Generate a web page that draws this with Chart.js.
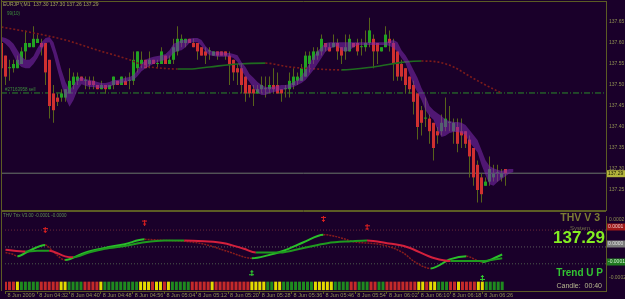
<!DOCTYPE html>
<html>
<head>
<meta charset="utf-8">
<script src="https://cdn.jsdelivr.net/npm/chart.js@4.4.1/dist/chart.umd.min.js"></script>
<style>
  html, body { margin: 0; padding: 0; background: #1a002a; }
  #wrap { position: relative; width: 625px; height: 299px; overflow: hidden; }
  canvas { position: absolute; left: 0; }
  #priceCanvas { top: 0; }
  #trixCanvas { top: 211px; }
</style>
</head>
<body>
<div id="wrap">
  <canvas id="priceCanvas" width="625" height="211"></canvas>
  <canvas id="trixCanvas" width="625" height="88"></canvas>
</div>
<script>
// EURJPY M1 candles, 8 Jun 2009 (one entry per bar, left to right)
const opens = [137.60,137.57,137.54,137.54,137.54,137.55,137.58,137.59,137.59,137.60,
  137.60,137.60,137.56,137.48,137.47,137.47,137.47,137.48,137.50,137.51,
  137.52,137.51,137.51,137.51,137.50,137.49,137.50,137.49,137.50,137.51,
  137.50,137.51,137.51,137.51,137.54,137.55,137.56,137.55,137.56,137.55,
  137.55,137.57,137.55,137.56,137.58,137.60,137.60,137.61,137.60,137.60,
  137.59,137.58,137.58,137.57,137.58,137.58,137.58,137.57,137.56,137.54,
  137.54,137.52,137.50,137.49,137.48,137.49,137.49,137.49,137.50,137.50,
  137.49,137.49,137.49,137.50,137.51,137.51,137.52,137.55,137.56,137.57,
  137.58,137.60,137.59,137.59,137.60,137.59,137.58,137.58,137.60,137.60,
  137.59,137.59,137.60,137.61,137.60,137.58,137.59,137.61,137.60,137.58,
  137.55,137.54,137.52,137.50,137.48,137.44,137.42,137.42,137.41,137.39,
  137.39,137.40,137.41,137.39,137.40,137.39,137.39,137.37,137.35,137.31,
  137.28,137.26,137.27,137.28,137.29,137.28,137.30];
const highs = [137.61,137.57,137.56,137.56,137.57,137.59,137.63,137.60,137.64,137.62,
  137.61,137.60,137.56,137.50,137.48,137.49,137.49,137.54,137.53,137.53,
  137.52,137.52,137.52,137.52,137.50,137.51,137.50,137.50,137.52,137.51,
  137.52,137.52,137.53,137.58,137.58,137.58,137.56,137.58,137.56,137.56,
  137.59,137.57,137.57,137.61,137.64,137.62,137.61,137.61,137.61,137.60,
  137.59,137.59,137.59,137.58,137.58,137.58,137.58,137.58,137.56,137.55,
  137.55,137.52,137.50,137.50,137.50,137.52,137.52,137.52,137.54,137.53,
  137.49,137.50,137.53,137.54,137.53,137.55,137.58,137.58,137.59,137.59,
  137.62,137.60,137.60,137.62,137.61,137.59,137.62,137.62,137.60,137.61,
  137.61,137.63,137.66,137.62,137.60,137.59,137.64,137.63,137.61,137.58,
  137.56,137.54,137.52,137.51,137.48,137.45,137.47,137.43,137.41,137.40,
  137.43,137.47,137.45,137.42,137.42,137.42,137.39,137.38,137.35,137.32,
  137.29,137.28,137.33,137.31,137.31,137.30,137.30];
const lows = [137.51,137.50,137.51,137.53,137.54,137.55,137.56,137.59,137.59,137.60,
  137.57,137.50,137.42,137.41,137.45,137.46,137.46,137.48,137.49,137.50,
  137.51,137.49,137.49,137.49,137.49,137.49,137.48,137.49,137.49,137.50,
  137.50,137.50,137.49,137.50,137.53,137.54,137.54,137.54,137.55,137.54,
  137.55,137.55,137.55,137.55,137.57,137.59,137.59,137.60,137.59,137.56,
  137.57,137.55,137.56,137.57,137.56,137.57,137.56,137.50,137.51,137.50,
  137.48,137.46,137.47,137.45,137.48,137.48,137.47,137.48,137.48,137.48,
  137.46,137.47,137.47,137.49,137.50,137.51,137.52,137.53,137.55,137.56,
  137.57,137.58,137.58,137.59,137.56,137.55,137.56,137.58,137.59,137.57,
  137.57,137.58,137.59,137.54,137.55,137.58,137.59,137.58,137.51,137.51,
  137.51,137.48,137.48,137.43,137.37,137.38,137.40,137.36,137.32,137.36,
  137.38,137.39,137.39,137.36,137.34,137.35,137.35,137.28,137.26,137.22,
  137.22,137.26,137.26,137.27,137.27,137.27,137.26];
const closes = [137.54,137.52,137.54,137.55,137.56,137.58,137.60,137.60,137.61,137.61,
  137.59,137.53,137.45,137.44,137.46,137.48,137.49,137.51,137.52,137.52,
  137.51,137.51,137.50,137.50,137.49,137.50,137.49,137.50,137.52,137.50,
  137.52,137.50,137.51,137.56,137.58,137.56,137.54,137.56,137.55,137.55,
  137.58,137.55,137.56,137.59,137.61,137.61,137.61,137.60,137.59,137.58,
  137.57,137.57,137.58,137.58,137.57,137.57,137.57,137.55,137.53,137.53,
  137.50,137.48,137.48,137.48,137.49,137.50,137.49,137.50,137.49,137.48,
  137.48,137.49,137.51,137.52,137.52,137.54,137.57,137.57,137.58,137.58,
  137.61,137.59,137.58,137.60,137.58,137.57,137.59,137.61,137.59,137.58,
  137.59,137.60,137.63,137.58,137.58,137.59,137.62,137.60,137.55,137.52,
  137.52,137.50,137.49,137.46,137.40,137.41,137.42,137.39,137.35,137.38,
  137.41,137.42,137.41,137.41,137.36,137.38,137.36,137.33,137.28,137.25,
  137.24,137.27,137.30,137.29,137.29,137.29,137.29];

// purple channel (upper / lower edge per bar, runs two bars past the last candle)
const bandUpper = [137.614,137.612,137.607,137.598,137.583,137.567,137.560,137.560,137.569,137.588,
  137.602,137.612,137.614,137.602,137.571,137.536,137.507,137.488,137.500,137.514,
  137.519,137.514,137.512,137.510,137.507,137.505,137.505,137.507,137.512,137.512,
  137.514,137.517,137.519,137.524,137.536,137.550,137.560,137.564,137.567,137.569,
  137.571,137.574,137.583,137.598,137.602,137.607,137.607,137.610,137.612,137.612,
  137.607,137.593,137.583,137.579,137.579,137.579,137.576,137.576,137.574,137.571,
  137.555,137.543,137.526,137.517,137.507,137.500,137.495,137.495,137.495,137.498,
  137.500,137.500,137.502,137.507,137.512,137.521,137.536,137.552,137.567,137.581,
  137.590,137.600,137.602,137.602,137.602,137.602,137.602,137.602,137.602,137.602,
  137.602,137.602,137.602,137.602,137.602,137.602,137.602,137.605,137.607,137.602,
  137.583,137.571,137.555,137.536,137.517,137.493,137.474,137.450,137.440,137.433,
  137.426,137.417,137.414,137.412,137.412,137.410,137.405,137.393,137.381,137.369,
  137.345,137.321,137.307,137.302,137.298,137.295,137.298,137.300,137.300];
const bandLower = [137.605,137.598,137.588,137.571,137.552,137.543,137.540,137.540,137.550,137.564,
  137.583,137.600,137.602,137.574,137.536,137.500,137.469,137.448,137.464,137.488,
  137.502,137.498,137.495,137.495,137.493,137.493,137.493,137.495,137.500,137.502,
  137.505,137.507,137.510,137.512,137.521,137.533,137.540,137.545,137.550,137.555,
  137.557,137.560,137.564,137.576,137.581,137.583,137.590,137.600,137.602,137.602,
  137.593,137.579,137.571,137.569,137.567,137.567,137.567,137.567,137.564,137.555,
  137.536,137.519,137.507,137.493,137.483,137.476,137.476,137.481,137.483,137.486,
  137.488,137.490,137.493,137.495,137.500,137.505,137.512,137.524,137.536,137.550,
  137.564,137.579,137.586,137.590,137.593,137.583,137.579,137.583,137.590,137.595,
  137.595,137.595,137.595,137.595,137.595,137.595,137.595,137.593,137.588,137.579,
  137.564,137.552,137.526,137.500,137.483,137.464,137.440,137.426,137.417,137.393,
  137.376,137.379,137.386,137.388,137.388,137.386,137.381,137.364,137.352,137.340,
  137.310,137.286,137.264,137.260,137.269,137.276,137.283,137.290,137.293];

// slow moving average, read at these bars
const maBars   = [0, 8, 16, 24, 32, 36, 40, 44, 47, 52, 59, 66, 72, 79, 85, 93, 101, 105, 109, 113, 117, 121, 125];
const maValues = [137.638, 137.624, 137.607, 137.583, 137.560, 137.545, 137.540, 137.538, 137.538, 137.543, 137.550,
  137.552, 137.543, 137.538, 137.536, 137.543, 137.555, 137.557, 137.555, 137.543, 137.521, 137.500, 137.481];

const sellLevel = 137.481;
const lastPrice = 137.29;
const priceTicks = [137.25, 137.30, 137.35, 137.40, 137.45, 137.50, 137.55, 137.60, 137.65];

// one label every 8 bars
const timeLabels = ['8 Jun 2009', '8 Jun 04:32', '8 Jun 04:40', '8 Jun 04:48', '8 Jun 04:56', '8 Jun 05:04',
  '8 Jun 05:12', '8 Jun 05:20', '8 Jun 05:28', '8 Jun 05:36', '8 Jun 05:46', '8 Jun 05:54',
  '8 Jun 06:02', '8 Jun 06:10', '8 Jun 06:18', '8 Jun 06:26'];

// THV Trix window, values in units of 0.0001
const TRIX_UNIT = 1e-4;
const fastBars   = [0, 2, 3, 6, 10, 12, 15, 20, 25, 30, 35, 40, 45, 50, 56, 62, 66, 70, 75, 80, 85, 87, 95, 100, 103, 107, 112, 116, 120, 125];
const fastValues = [-0.26, -0.39, -0.52, -0.13, 0.26, -0.19, -0.77, -0.26, 0.06, 0.32, 0.65, 0.58, 0.52, 0.32, -0.19,
  -0.65, -0.45, -0.13, 0.45, 0.97, 0.71, 0.52, 0.26, -0.26, -0.90, -1.35, -0.71, -0.52, -0.90, -0.39];
const slowBars   = [0, 5, 8, 11, 15, 17, 21, 25, 30, 35, 40, 45, 50, 55, 60, 63, 69, 75, 81, 87, 91, 96, 101, 108, 112, 120, 125];
const slowValues = [-0.06, -0.19, -0.13, -0.13, -0.52, -0.58, -0.26, 0.00, 0.19, 0.45, 0.58, 0.58, 0.52, 0.39, 0.00,
  -0.26, -0.26, 0.06, 0.39, 0.52, 0.58, 0.39, 0.13, -0.65, -0.84, -0.84, -0.65];
const trixLevels = [1.29, 0.13, -1.03];
const trixTicks  = [2, -2];
const sellArrowBars = [10, 35, 80, 91];
const sellArrowValues = [1.29, 1.81, 2.06, 1.48];
const buyArrowBars = [62, 120];
const buyArrowValues = [-1.68, -2.0];
// r = down, y = flat, g = up
const trendStrip = ('rrry' + 'ggggg' + 'rrrrr' + 'yy' + 'gggg' + 'rrrr' + 'y' + 'ggggggggg' + 'yyy' + 'r' + 'yy' + 'r' + 'y' +
  'ggggg' + 'rrrrr' + 'y' + 'rrrrrrrrr' + 'yyyy' + 'gg' + 'yy' + 'gggggggg' + 'yyyyy' + 'gggg' + 'rr' + 'ggg' + 'rr' + 'gg' +
  'rrrrrrrr' + 'yy' + 'r' + 'yy' + 'ggg' + 'rr' + 'y' + 'rrrr' + 'yy' + 'ggggg').split('');

// ---- styling ----
const FONT = "'Liberation Sans', Arial, sans-serif";
const AXIS = '#5c5c24';
const TXT = '#8e8e52';
const BULL = '#22a322', BEAR = '#d03030', WICK = '#58621a';
const X_MIN = -0.125, X_MAX = 151.125;
const STRIP_TOP = -2.26e-4, STRIP_BOTTOM = -2.84e-4;
const trendColors = { r: '#c42a2a', y: '#e4da00', g: '#1f8a1f' };

function arrowIcon(color, down) {
  const c = document.createElement('canvas');
  c.width = 5; c.height = 6;
  const g = c.getContext('2d');
  g.fillStyle = color;
  const row = r => down ? r : 5 - r;
  g.fillRect(2, 0, 1, 6);
  g.fillRect(0, row(1), 5, 1);
  g.fillRect(1, row(4), 3, 1);
  return c;
}

function hline(value, color, dash, width) {
  return {
    type: 'line', data: [{ x: X_MIN, y: value }, { x: X_MAX, y: value }],
    borderColor: color, borderDash: dash, borderWidth: width || 1, pointRadius: 0, order: 5
  };
}

const rising = c => c.p1.parsed.y >= c.p0.parsed.y;

function xAxis(show) {
  return {
    type: 'linear', min: X_MIN, max: X_MAX, offset: false, display: show,
    grid: { display: true, drawOnChartArea: false, drawTicks: true, tickLength: 3, color: AXIS, offset: false },
    border: { display: true, color: AXIS },
    afterBuildTicks: s => { s.ticks = timeLabels.map((_, k) => ({ value: k * 8 })); },
    afterFit: s => { s.height = show ? 8 : 0; s.paddingLeft = 0; s.paddingRight = 0; },
    ticks: {
      autoSkip: false, maxRotation: 0, minRotation: 0, align: 'start', labelOffset: 2, padding: -2,
      color: TXT, font: { size: 5.5, family: FONT }, callback: v => timeLabels[Math.round(v / 8)]
    }
  };
}

function yAxis(min, max, ticks, fmt) {
  return {
    type: 'linear', position: 'right', min, max, beginAtZero: false,
    grid: { display: false, drawTicks: false },
    border: { display: true, color: AXIS },
    afterBuildTicks: s => { s.ticks = ticks.map(v => ({ value: v })); },
    afterFit: s => { s.width = 19; s.paddingTop = 0; s.paddingBottom = 0; },
    ticks: { padding: 3, color: TXT, font: { size: 5, family: FONT }, callback: fmt }
  };
}

function frame(bottomLine) {
  return {
    id: 'frame',
    afterDraw(chart) {
      const { ctx, chartArea: a } = chart;
      ctx.save();
      ctx.strokeStyle = AXIS; ctx.lineWidth = 1;
      ctx.beginPath();
      ctx.moveTo(1.5, 0); ctx.lineTo(1.5, a.bottom);
      if (bottomLine) {
        ctx.moveTo(1, 1.5); ctx.lineTo(a.right, 1.5);
        ctx.moveTo(1, a.bottom + 0.5); ctx.lineTo(a.right, a.bottom + 0.5);
      } else {
        ctx.moveTo(1, 0.5); ctx.lineTo(a.right, 0.5);
      }
      ctx.stroke();
      ctx.restore();
    }
  };
}

function text(ctx, str, x, y, font, color, align) {
  ctx.font = font; ctx.fillStyle = color;
  ctx.textAlign = align || 'left'; ctx.textBaseline = 'middle';
  ctx.fillText(str, x, y);
}

function valueBox(ctx, str, y, bg, fg) {
  ctx.fillStyle = bg;
  ctx.fillRect(607, y - 3, 18, 7);
  text(ctx, str, 608, y + 0.5, '5px ' + FONT, fg);
}

const priceTexts = {
  id: 'priceTexts',
  afterDraw(chart) {
    const ctx = chart.ctx;
    ctx.save();
    text(ctx, 'EURJPY,M1  137.30 137.30 137.26 137.29', 3, 5, '5px ' + FONT, '#a4a45c');
    text(ctx, '99(10)', 7, 14, '4.5px ' + FONT, '#3c8c3c');
    text(ctx, '#27163958 sell', 5, 90, '4.5px ' + FONT, '#3c8c3c');
    valueBox(ctx, lastPrice.toFixed(2), chart.scales.y.getPixelForValue(lastPrice), '#b4b43c', '#1a1a00');
    ctx.restore();
  }
};

const trixTexts = {
  id: 'trixTexts',
  afterDraw(chart) {
    const ctx = chart.ctx;
    ctx.save();
    text(ctx, 'THV Trix V3.00 -0.0001 -0.0000', 3, 5, '4.5px ' + FONT, '#5e8e52');
    text(ctx, 'THV V 3', 600, 7, 'bold 10.5px ' + FONT, '#7c7c34', 'right');
    text(ctx, 'System', 580, 17, '6px ' + FONT, '#6e6e48', 'center');
    text(ctx, lastPrice.toFixed(2), 605, 27.5, 'bold 17px ' + FONT, '#84ee22', 'right');
    text(ctx, 'Trend U P', 603, 62.5, 'bold 10px ' + FONT, '#33c333', 'right');
    text(ctx, 'Candle:  00:40', 602, 75, '7px ' + FONT, '#b8b890', 'right');
    valueBox(ctx, '0.0001', 15.5, '#a01818', '#e8c8c8');
    valueBox(ctx, '0.0000', 32.5, '#7a7a7a', '#e0e0e0');
    valueBox(ctx, '-0.0001', 50.5, '#207a20', '#d0f0d0');
    ctx.restore();
  }
};

Chart.defaults.animation = false;
Chart.defaults.events = [];
Chart.defaults.plugins.legend.display = false;
Chart.defaults.plugins.tooltip.enabled = false;

new Chart(document.getElementById('priceCanvas'), {
  type: 'bar',
  data: {
    datasets: [
      {
        type: 'line', data: bandUpper.map((v, i) => ({ x: i, y: v })),
        borderWidth: 0, pointRadius: 0, fill: false, order: 0
      },
      {
        type: 'line', data: bandLower.map((v, i) => ({ x: i, y: v })),
        borderWidth: 0, pointRadius: 0, fill: '-1', backgroundColor: 'rgba(125, 42, 175, 0.55)', order: 0
      },
      {
        type: 'line', data: maBars.map((b, k) => ({ x: b, y: maValues[k] })),
        borderWidth: 1.6, pointRadius: 0, cubicInterpolationMode: 'monotone', order: 1,
        segment: {
          borderColor: c => rising(c) ? '#1f6b1f' : '#7d1a1a',
          borderDash: c => rising(c) ? [] : [2, 2]
        }
      },
      {
        type: 'bar', data: opens.map((o, i) => ({ x: i, y: [lows[i], highs[i]] })),
        backgroundColor: WICK, barThickness: 1, grouped: false, inflateAmount: 0, order: 3
      },
      {
        type: 'bar', data: opens.map((o, i) => ({ x: i, y: [o, closes[i]] })),
        backgroundColor: c => closes[c.dataIndex] >= opens[c.dataIndex] ? BULL : BEAR,
        barThickness: 3, minBarLength: 1, grouped: false, inflateAmount: 0, order: 2
      },
      hline(sellLevel, '#2a8a2a', [6, 2, 1, 2]),
      hline(lastPrice, '#6b776b', [])
    ]
  },
  options: {
    responsive: false, devicePixelRatio: 1,
    layout: { padding: { left: 1, right: 0, top: 1, bottom: 1 } },
    scales: {
      x: xAxis(false),
      y: yAxis(137.2024, 137.70, priceTicks, v => v.toFixed(2))
    }
  },
  plugins: [frame(true), priceTexts]
});

function trixLine(bars, values, upColor, downColor, downDash, width, downWidth) {
  return {
    type: 'line', data: bars.map((b, k) => ({ x: b, y: values[k] * TRIX_UNIT })),
    borderWidth: width, pointRadius: 0, cubicInterpolationMode: 'monotone', order: 1,
    segment: {
      borderColor: c => rising(c) ? upColor : downColor,
      borderDash: c => rising(c) ? [] : downDash,
      borderWidth: c => rising(c) ? width : downWidth
    }
  };
}

function arrows(bars, values, icon) {
  return {
    type: 'scatter', data: bars.map((b, k) => ({ x: b, y: values[k] * TRIX_UNIT })),
    pointStyle: icon, pointRadius: 3, order: 0
  };
}

new Chart(document.getElementById('trixCanvas'), {
  type: 'bar',
  data: {
    datasets: [
      {
        type: 'bar', data: trendStrip.map((s, i) => ({ x: i, y: [STRIP_TOP, STRIP_BOTTOM] })),
        backgroundColor: c => trendColors[trendStrip[c.dataIndex]],
        barThickness: 3, grouped: false, inflateAmount: 0, order: 6
      },
      hline(trixLevels[0] * TRIX_UNIT, '#6a2a3a', [1, 2]),
      hline(trixLevels[1] * TRIX_UNIT, '#5a5a5a', [1, 2]),
      hline(trixLevels[2] * TRIX_UNIT, '#4a5a4a', [1, 2]),
      trixLine(slowBars, slowValues, '#1f9a1f', '#d4203c', [], 2, 2),
      trixLine(fastBars, fastValues, '#2ac02a', '#8a1c1c', [2, 1], 2, 1.5),
      arrows(sellArrowBars, sellArrowValues, arrowIcon('#e02020', true)),
      arrows(buyArrowBars, buyArrowValues, arrowIcon('#30d030', false))
    ]
  },
  options: {
    responsive: false, devicePixelRatio: 1,
    layout: { padding: { left: 1, right: 0, top: 0, bottom: 0 } },
    scales: {
      x: xAxis(true),
      y: yAxis(-2.903e-4, 2.258e-4, trixTicks.map(v => v * TRIX_UNIT), v => v.toFixed(4))
    }
  },
  plugins: [frame(false), trixTexts]
});
</script>
</body>
</html>
